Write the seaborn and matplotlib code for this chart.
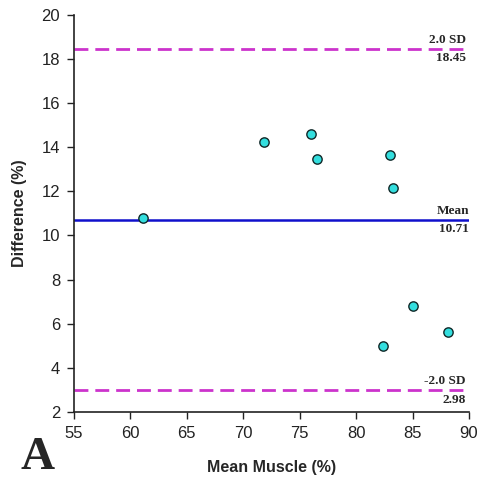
import matplotlib
matplotlib.use("Agg")
import matplotlib.pyplot as plt
import seaborn as sns
import pandas as pd

mean_muscle = [61.1, 71.8, 76.0, 76.5, 83.0, 83.3, 85.0, 88.1, 82.4]
difference = [10.81, 14.24, 14.62, 13.47, 13.65, 12.17, 6.82, 5.64, 5.01]
mean_diff = 10.71
upper_sd = 18.45
lower_sd = 2.98
x_ticks = [55, 60, 65, 70, 75, 80, 85, 90]
y_ticks = [2, 4, 6, 8, 10, 12, 14, 16, 18, 20]

sns.set_style("ticks")
plt.rcParams['font.family'] = ['Liberation Sans', 'DejaVu Sans']

df = pd.DataFrame({"x": mean_muscle, "y": difference})

fig = plt.figure(figsize=(4.83, 4.84), dpi=100)
ax = fig.add_axes([0.153, 0.149, 0.818, 0.82])

ax.plot([55, 90], [upper_sd, upper_sd], color="#cc33cc", lw=2, ls=(0, (5, 2.5)))
ax.plot([55, 90], [lower_sd, lower_sd], color="#cc33cc", lw=2, ls=(0, (5, 2.5)))
ax.plot([55, 90], [mean_diff, mean_diff], color="#1010cc", lw=1.8)

sns.scatterplot(data=df, x="x", y="y", ax=ax, s=45, color="#33dede",
                edgecolor="#102828", linewidth=1.0, zorder=5)

ax.set_xlim(55, 90)
ax.set_ylim(2, 20)
ax.set_xticks(x_ticks)
ax.set_yticks(y_ticks)
ax.tick_params(labelsize=12, direction="out", length=5, width=1, colors="#222222", pad=5)
for s in ["top", "right"]:
    ax.spines[s].set_visible(False)
for s in ["left", "bottom"]:
    ax.spines[s].set_linewidth(1.2)
    ax.spines[s].set_color("#222222")

ax.set_xlabel("Mean Muscle (%)", fontsize=11.5, fontweight="bold", labelpad=14)
ax.set_ylabel("Difference (%)", fontsize=11.5, fontweight="bold", labelpad=10)

sfont = dict(family=["Liberation Serif", "DejaVu Serif"], fontweight="bold", fontsize=9.5)
xr = 89.7
ax.text(xr, upper_sd + 0.15, "2.0 SD", ha="right", va="bottom", **sfont)
ax.text(xr, upper_sd - 0.15, f"{upper_sd:.2f}", ha="right", va="top", **sfont)
ax.text(90, mean_diff + 0.15, "Mean", ha="right", va="bottom", **sfont)
ax.text(90, mean_diff - 0.15, f"{mean_diff:.2f}", ha="right", va="top", **sfont)
ax.text(xr, lower_sd + 0.15, "-2.0 SD", ha="right", va="bottom", **sfont)
ax.text(xr, lower_sd - 0.15, f"{lower_sd:.2f}", ha="right", va="top", **sfont)

fig.text(0.077, 0.054, "A", family=["Liberation Serif", "DejaVu Serif"],
         fontweight="bold", fontsize=34, ha="center", va="center")

fig.savefig("out.png", dpi=100)
